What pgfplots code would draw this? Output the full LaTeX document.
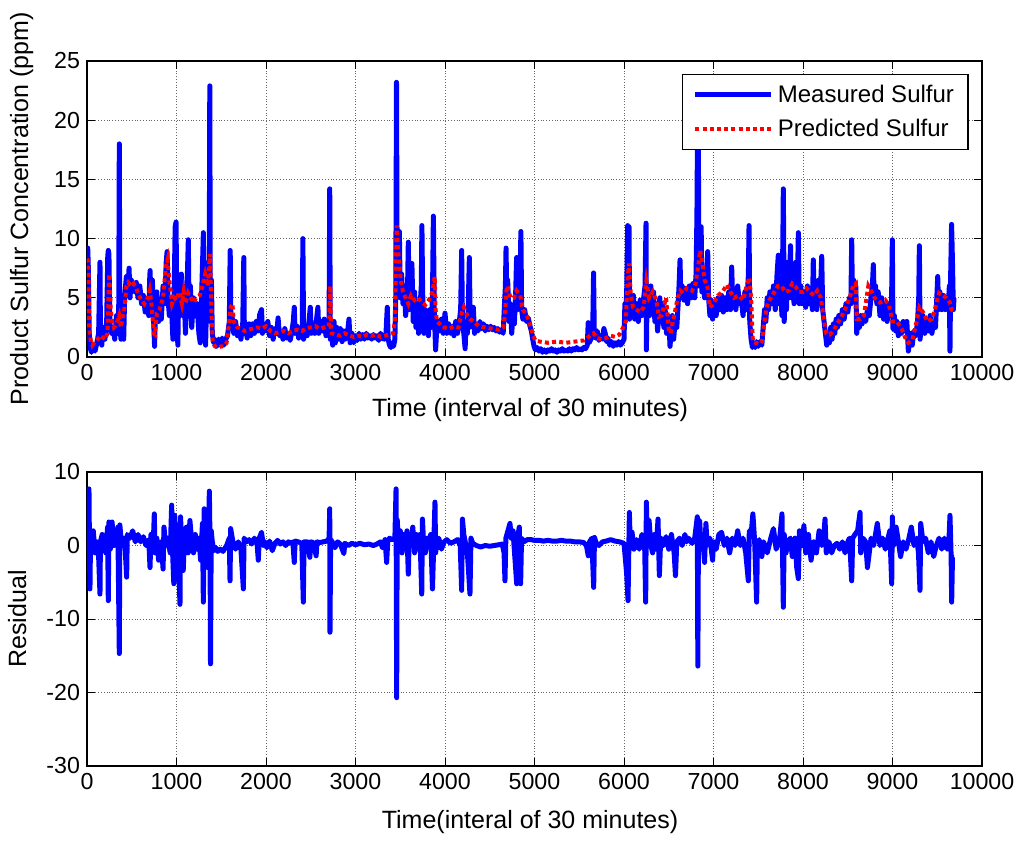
\documentclass[border=0pt]{standalone}
\usepackage{pgfplots}
\pgfplotsset{compat=1.18}
\usepackage{pgfplotstable}
\usepackage{fontspec}
\setmainfont{Liberation Sans}
\definecolor{mblue}{RGB}{0,0,255}
\definecolor{mred}{RGB}{255,0,0}

\pgfplotstableread{
x y
0 8.5
8 9.2
15 7.5
25 2.0
35 0.8
50 0.4
70 1.0
90 0.5
110 1.2
130 2.0
140 6.0
145 8.0
150 2.0
165 1.0
180 2.5
200 1.5
220 3.0
232 8.5
238 9.0
245 8.7
255 3.0
270 2.0
290 2.5
310 1.5
330 3.5
345 2.0
355 4.5
361 18.0
367 2.5
380 1.5
395 3.0
410 1.5
420 5.0
440 6.8
455 5.5
470 7.5
480 5.0
495 6.5
510 6.0
530 5.5
550 6.3
570 5.0
590 6.0
610 4.5
630 5.2
650 3.8
670 4.5
690 3.5
700 6.5
705 7.3
715 4.0
730 6.5
745 3.0
755 0.9
765 4.0
780 5.5
800 3.0
815 4.5
830 3.2
850 6.0
870 4.5
885 8.0
895 8.9
905 5.0
920 3.5
940 5.0
960 1.5
975 6.0
985 11.0
995 11.4
1005 3.0
1015 1.0
1025 6.0
1040 4.0
1055 7.0
1070 3.5
1085 5.5
1100 2.0
1115 5.0
1132 9.9
1140 4.0
1155 6.0
1170 2.5
1190 5.0
1210 3.5
1230 4.5
1250 2.0
1265 1.2
1280 5.0
1295 9.0
1300 10.5
1310 3.5
1325 1.0
1340 6.0
1355 8.0
1365 4.0
1372 22.9
1378 3.0
1390 6.5
1400 2.0
1415 1.2
1430 1.5
1450 0.9
1470 1.5
1490 1.0
1510 1.6
1530 1.0
1550 1.5
1570 1.8
1590 3.0
1600 9.0
1608 2.5
1620 3.5
1640 2.0
1660 3.0
1680 1.8
1700 2.4
1720 1.5
1740 2.8
1752 8.4
1758 2.0
1775 2.5
1790 1.6
1810 2.8
1830 1.8
1850 2.8
1870 2.0
1890 3.0
1910 2.2
1930 3.6
1950 4.0
1960 2.0
1980 2.8
2000 2.2
2020 3.0
2040 1.8
2060 2.5
2080 1.5
2100 2.4
2120 2.0
2135 3.3
2150 1.8
2170 2.2
2190 1.5
2210 2.4
2230 1.6
2250 2.0
2270 1.4
2290 2.2
2305 3.0
2316 4.2
2325 2.0
2345 2.6
2365 1.6
2385 2.5
2405 2.0
2412 10.0
2420 1.5
2440 2.6
2460 1.8
2480 3.0
2495 4.2
2505 2.0
2525 2.8
2545 2.0
2565 3.2
2580 4.2
2590 2.0
2610 3.0
2630 2.2
2650 3.2
2670 1.8
2690 2.5
2705 3.0
2712 14.2
2718 1.5
2730 2.6
2745 1.0
2760 3.0
2775 1.2
2790 2.5
2810 1.5
2830 2.4
2850 1.3
2870 2.2
2890 1.5
2910 2.0
2927 3.2
2940 1.2
2960 2.0
2980 1.2
3000 1.8
3020 1.4
3040 2.0
3060 1.5
3080 1.9
3100 1.5
3120 2.0
3140 1.6
3160 1.8
3180 1.5
3200 1.9
3220 1.6
3240 1.8
3260 1.4
3280 2.0
3300 1.6
3320 1.5
3340 1.9
3355 4.2
3365 1.5
3380 1.0
3395 0.8
3410 1.2
3425 0.9
3440 1.5
3450 5.0
3458 23.2
3465 8.0
3475 6.0
3490 10.6
3500 5.0
3515 7.0
3530 4.5
3545 6.0
3560 3.5
3580 5.0
3590 9.7
3600 4.0
3615 7.0
3630 7.9
3645 3.0
3660 5.5
3675 2.5
3690 4.5
3705 2.0
3720 4.0
3735 6.0
3742 11.1
3750 5.5
3765 2.0
3780 4.0
3800 2.5
3815 1.8
3830 4.0
3845 2.5
3860 5.0
3870 11.9
3880 4.0
3895 0.6
3905 2.0
3920 3.0
3940 2.2
3960 3.2
3980 2.0
4000 3.7
4020 2.0
4040 2.8
4060 2.0
4080 2.6
4100 1.8
4120 3.0
4140 2.0
4160 3.0
4175 4.0
4186 9.0
4195 3.0
4210 2.0
4225 0.7
4235 3.0
4250 2.0
4262 5.0
4272 8.4
4282 2.5
4300 2.8
4316 4.2
4330 2.0
4350 2.8
4370 2.2
4390 3.0
4410 2.4
4430 2.8
4450 2.2
4470 2.6
4490 2.3
4510 2.6
4530 2.3
4550 2.5
4570 2.2
4590 2.4
4610 2.1
4630 2.3
4650 2.0
4665 4.5
4675 6.0
4682 9.2
4690 5.0
4700 6.5
4715 3.0
4730 4.5
4745 2.0
4760 3.5
4775 2.8
4790 5.5
4800 8.4
4810 4.0
4825 6.0
4835 5.0
4848 10.6
4856 4.0
4870 3.2
4890 4.0
4910 3.0
4930 3.3
4950 2.6
4965 2.2
4980 1.5
4995 0.9
5010 0.6
5030 0.8
5050 0.5
5070 0.7
5090 0.4
5110 0.6
5130 0.4
5150 0.6
5170 0.5
5190 0.7
5210 0.5
5230 0.6
5250 0.4
5270 0.6
5290 0.5
5310 0.7
5330 0.5
5350 0.6
5370 0.5
5390 0.7
5410 0.5
5430 0.7
5450 0.6
5470 0.8
5490 0.6
5510 0.7
5530 0.6
5550 0.8
5570 0.7
5590 1.0
5600 2.9
5610 1.2
5630 1.5
5650 2.0
5660 7.1
5668 1.8
5680 1.6
5700 2.2
5720 1.4
5740 1.8
5760 1.5
5775 2.4
5790 2.0
5805 1.3
5820 1.6
5840 1.0
5860 1.3
5880 0.9
5900 1.2
5920 1.0
5940 1.3
5960 1.0
5980 1.2
6000 1.5
6010 4.5
6020 3.5
6030 5.5
6041 11.1
6048 5.0
6056 11.0
6062 3.2
6075 5.0
6090 3.5
6105 5.2
6120 3.2
6140 4.5
6160 3.0
6180 4.8
6200 3.5
6220 5.0
6235 6.0
6246 11.3
6250 0.6
6256 4.0
6270 5.5
6285 3.5
6300 6.0
6315 4.0
6330 5.5
6345 3.0
6360 4.5
6375 2.2
6390 3.5
6400 5.0
6415 3.0
6430 4.5
6445 2.5
6460 4.0
6475 2.0
6490 3.5
6505 2.5
6514 0.9
6525 2.0
6540 3.5
6555 1.5
6570 3.0
6590 2.5
6605 4.5
6615 6.0
6626 8.2
6635 5.0
6650 6.0
6670 4.8
6690 5.8
6710 4.5
6730 6.0
6750 5.0
6770 6.2
6790 5.0
6805 7.0
6815 12.0
6822 20.0
6830 19.0
6838 6.0
6850 8.0
6862 11.0
6870 5.5
6885 6.5
6900 5.0
6920 6.0
6935 8.9
6945 5.0
6960 3.5
6975 4.8
6990 3.2
7010 4.5
7030 3.5
7050 5.0
7070 4.0
7090 5.2
7110 3.8
7130 5.0
7150 4.0
7170 5.5
7190 4.0
7203 7.6
7215 4.5
7230 5.5
7250 4.0
7270 6.0
7290 4.5
7310 5.0
7330 3.5
7350 5.5
7370 4.0
7390 7.0
7397 11.1
7405 3.0
7420 1.5
7435 0.8
7450 1.2
7465 0.8
7480 1.3
7500 0.9
7520 1.3
7540 1.0
7555 2.5
7570 4.0
7585 3.0
7600 5.0
7615 4.0
7630 5.5
7650 4.5
7670 6.0
7690 4.0
7710 7.0
7724 8.6
7735 4.5
7750 5.5
7765 3.5
7775 10.0
7780 14.2
7790 3.0
7800 6.0
7815 4.0
7830 8.0
7845 5.0
7860 9.4
7870 5.0
7885 6.5
7900 4.5
7920 8.0
7935 5.0
7948 10.5
7958 4.5
7975 6.0
7990 4.5
8010 5.5
8030 4.2
8050 6.0
8070 4.5
8090 5.5
8105 4.0
8115 8.2
8125 4.5
8140 6.0
8155 4.0
8175 6.5
8190 4.5
8209 8.5
8220 4.0
8235 3.0
8250 2.0
8265 1.0
8280 2.0
8295 1.2
8310 2.5
8325 1.5
8340 2.8
8355 2.0
8370 3.2
8385 2.5
8400 3.5
8420 2.8
8440 4.0
8460 3.2
8480 4.5
8500 3.8
8520 5.0
8535 4.5
8544 9.9
8552 5.0
8565 6.5
8580 5.5
8590 6.0
8600 2.0
8615 3.2
8630 2.5
8645 3.5
8660 2.8
8680 3.5
8700 3.0
8720 4.0
8740 3.5
8760 5.0
8775 6.0
8786 7.8
8795 5.0
8810 6.0
8825 4.5
8840 5.5
8860 3.5
8880 5.0
8900 3.2
8920 4.5
8940 3.0
8960 4.5
8975 3.5
8990 5.0
8998 9.9
9005 2.4
9020 3.5
9035 2.2
9050 3.0
9065 1.8
9080 2.8
9100 2.0
9120 3.0
9140 2.2
9160 3.0
9177 0.5
9190 1.2
9205 2.0
9220 1.0
9240 2.2
9260 1.8
9280 3.0
9293 5.0
9300 9.4
9308 1.5
9320 2.5
9340 3.5
9360 2.0
9380 3.0
9400 2.2
9420 3.5
9440 2.0
9460 3.0
9480 2.5
9495 5.0
9505 6.8
9515 4.0
9530 5.5
9550 4.0
9570 5.2
9590 4.0
9610 5.0
9625 4.5
9635 6.0
9642 0.5
9650 7.0
9660 11.2
9670 8.0
9680 4.0
9687 5.0
}\measured

\pgfplotstableread{
x y
0 8.3
15 8.0
25 2.5
40 1.5
60 1.0
90 1.3
120 1.5
150 1.8
200 1.5
230 2.0
245 6.5
250 7.0
265 4.0
280 3.0
300 2.5
330 2.8
360 3.5
380 2.5
400 3.5
420 4.2
440 6.0
460 6.3
490 6.0
520 6.2
550 5.8
580 5.2
610 4.8
640 4.5
680 5.0
700 5.6
720 4.5
745 2.0
760 1.9
780 3.7
810 4.0
850 5.0
880 7.6
900 8.2
920 6.5
950 4.5
975 5.0
1000 4.8
1030 5.5
1060 4.5
1080 5.5
1100 4.5
1130 5.4
1160 5.0
1190 4.6
1220 5.0
1260 5.2
1290 6.0
1320 7.0
1350 6.0
1375 8.7
1390 4.0
1405 1.2
1430 0.9
1460 0.8
1500 0.9
1530 0.9
1560 1.2
1590 3.0
1605 4.2
1625 4.5
1640 3.0
1680 2.5
1720 2.4
1760 2.2
1800 2.3
1850 2.4
1900 2.5
1950 2.4
2000 2.6
2050 2.2
2100 2.0
2150 2.1
2200 2.2
2250 2.0
2300 2.2
2350 2.3
2400 2.2
2450 2.4
2500 2.5
2550 2.6
2600 2.4
2650 2.5
2700 2.6
2710 3.5
2718 6.0
2725 2.5
2735 2.0
2780 1.9
2830 1.8
2880 2.0
2930 1.8
2980 1.7
3030 1.8
3080 1.7
3130 1.9
3180 1.8
3230 1.9
3280 1.7
3330 1.8
3380 1.9
3420 2.0
3440 3.0
3460 11.1
3475 9.0
3490 8.0
3505 6.5
3530 5.5
3560 5.0
3590 4.5
3620 5.2
3660 4.8
3700 5.0
3740 4.6
3780 4.4
3820 4.8
3860 5.5
3885 6.8
3895 4.0
3910 3.0
3940 2.8
3990 2.5
4050 2.4
4100 2.6
4150 2.5
4190 3.8
4210 4.2
4250 3.5
4280 3.2
4320 3.0
4380 2.6
4450 2.5
4520 2.4
4600 2.3
4650 2.5
4670 3.5
4685 5.6
4700 6.0
4730 5.0
4770 5.0
4800 5.6
4840 5.2
4870 4.0
4920 3.4
4960 2.5
4985 1.8
5010 1.4
5060 1.3
5150 1.2
5250 1.3
5350 1.2
5450 1.3
5550 1.4
5620 1.8
5660 2.0
5700 1.6
5750 1.5
5800 1.6
5850 1.8
5900 1.7
5950 1.9
5990 2.5
6020 3.0
6040 6.5
6055 7.9
6075 5.4
6100 4.2
6140 4.0
6180 3.8
6220 4.2
6250 6.4
6280 5.0
6320 5.5
6360 4.8
6390 3.4
6420 3.5
6470 5.0
6500 2.3
6520 2.0
6560 3.5
6600 5.0
6630 5.6
6660 5.4
6700 5.8
6760 5.6
6800 6.2
6835 8.0
6850 9.0
6870 8.2
6900 6.5
6930 6.0
6945 5.2
6960 4.2
7000 4.5
7050 5.2
7100 5.5
7150 6.1
7190 5.5
7230 5.0
7280 5.2
7330 4.8
7370 6.0
7400 6.7
7420 5.0
7440 1.3
7470 1.2
7510 1.1
7540 1.3
7560 2.5
7590 4.0
7610 4.6
7640 5.0
7680 5.5
7720 6.0
7760 6.0
7800 5.5
7840 5.6
7880 6.2
7920 5.9
7960 5.5
8000 5.5
8040 5.8
8080 5.5
8120 5.2
8160 5.6
8200 5.0
8230 3.3
8260 2.0
8300 1.9
8340 2.2
8380 2.8
8430 3.4
8480 4.2
8520 5.0
8560 6.0
8590 6.2
8600 3.2
8640 3.2
8680 3.5
8730 6.0
8760 5.6
8800 5.0
8860 4.6
8920 4.8
8960 4.4
9000 3.0
9050 3.0
9100 2.4
9150 1.5
9177 1.2
9220 1.4
9270 3.0
9300 4.2
9340 3.8
9390 3.0
9440 3.2
9480 4.2
9520 5.4
9560 5.2
9600 5.0
9640 4.6
9660 4.0
9687 3.9
}\predicted

\pgfplotstableread{
x y
0 1.0
10 -0.5
22 7.7
28 -1
33 -5.9
40 1.5
55 -0.5
70 2.0
90 -1.0
110 0.5
130 -1.5
145 -6.6
150 0.5
170 1.5
190 0.0
210 -1.0
230 2.5
238 -7.5
245 3.2
260 -0.5
280 3.2
300 0.0
320 1.0
345 2.5
361 -14.7
367 2.8
380 1.0
400 0.0
420 1.0
443 -4.3
450 1.5
480 1.0
510 2.0
540 0.5
570 1.5
600 0.5
630 1.2
660 0.0
690 0.8
704 -3.0
715 1.5
740 0.0
752 4.3
760 -1.0
780 1.0
800 -2.0
830 0.5
850 -3.2
860 2.5
880 0.0
900 1.0
930 -1.0
946 5.5
955 -0.5
970 -5.2
980 4.1
990 1.0
1000 -2.0
1010 2.5
1039 -8.0
1045 3.9
1060 0.0
1075 -3.4
1090 1.5
1110 2.5
1130 -1.0
1150 3.4
1170 0.5
1190 -1.0
1210 1.5
1230 -0.5
1250 1.0
1270 -2.0
1290 3.0
1300 -7.7
1310 5.0
1330 1.0
1350 -3.0
1367 7.4
1375 0.0
1380 -16.1
1388 2.0
1400 0.5
1420 -0.7
1440 -0.3
1460 -0.8
1490 -0.5
1520 -0.8
1560 0.0
1590 1.0
1598 -4.8
1605 2.3
1630 0.5
1660 -0.5
1690 0.5
1720 -0.5
1747 -5.9
1755 1.0
1780 0.5
1810 0.8
1840 0.2
1870 1.0
1900 0.3
1914 -2.0
1925 1.0
1950 1.8
1970 0.0
1990 0.5
2010 -0.3
2040 0.6
2070 -0.7
2100 0.3
2130 0.7
2160 0.2
2190 0.5
2220 0.0
2250 0.5
2280 0.3
2300 0.5
2316 -2.3
2325 0.6
2360 0.5
2400 0.3
2417 -7.7
2425 0.5
2460 0.5
2490 -1.6
2500 0.5
2530 0.4
2560 -1.4
2570 0.5
2600 0.4
2640 0.5
2680 0.6
2705 1.0
2712 5.0
2715 -11.8
2722 0.8
2740 0.5
2770 -0.3
2800 0.5
2830 0.2
2870 -1.1
2880 0.3
2920 0.0
2960 0.3
3000 0.1
3050 0.3
3100 0.1
3150 0.2
3200 0.0
3240 0.2
3280 0.5
3300 -0.3
3330 0.8
3348 -2.3
3360 0.5
3380 1.0
3410 0.8
3440 1.0
3453 7.7
3460 -20.7
3466 3.5
3480 0.5
3500 2.0
3520 -1.0
3540 1.5
3560 -0.5
3575 2.0
3590 -3.9
3600 1.0
3620 0.0
3640 2.5
3660 -1.0
3680 1.5
3700 -0.5
3720 1.5
3740 -6.6
3748 3.6
3760 0.5
3780 -1.0
3800 1.0
3820 0.0
3840 1.5
3860 -5.9
3888 5.9
3895 -1.0
3910 0.5
3930 1.0
3960 -0.5
3990 0.5
4020 0.8
4060 0.3
4100 0.5
4140 0.8
4170 0.0
4186 -6.1
4195 3.6
4210 1.5
4250 -1.0
4279 -6.6
4290 1.0
4310 0.3
4350 0.0
4400 -0.2
4450 0.0
4500 -0.1
4550 0.0
4600 0.1
4640 0.2
4660 -1.0
4670 -4.8
4680 1.0
4726 3.0
4740 1.0
4760 2.0
4801 -5.2
4810 1.0
4830 2.5
4845 -5.2
4855 1.0
4880 0.5
4920 0.8
4960 0.8
5000 0.7
5050 0.7
5100 0.6
5150 0.7
5200 0.6
5250 0.6
5300 0.7
5350 0.6
5400 0.6
5450 0.5
5500 0.5
5550 0.4
5580 0.0
5601 -1.4
5615 0.5
5640 1.0
5661 -5.7
5670 1.1
5690 0.3
5720 0.0
5760 0.5
5800 0.6
5850 0.8
5900 0.6
5950 0.5
6000 0.3
6030 -3.9
6045 -7.5
6060 4.5
6070 0.0
6090 1.8
6110 -0.5
6140 0.8
6170 -0.5
6200 1.5
6230 0.5
6242 -7.7
6250 5.9
6260 1.0
6280 3.4
6300 0.0
6320 -1.0
6340 1.5
6360 -0.5
6380 3.6
6395 -4.1
6410 1.0
6440 0.0
6470 1.2
6500 -0.5
6530 1.5
6560 -1.0
6575 -4.1
6590 0.5
6620 1.0
6650 0.0
6680 1.5
6700 0.5
6720 1.0
6760 0.3
6790 1.0
6819 3.9
6825 -16.4
6832 3.0
6845 3.4
6860 0.0
6880 1.0
6900 -2.3
6915 3.0
6930 0.0
6960 1.0
6990 -2.0
7000 0.5
7030 -0.5
7060 1.5
7090 1.8
7120 0.0
7150 1.0
7180 -1.0
7210 1.0
7240 0.0
7270 2.0
7300 0.0
7330 1.0
7360 -1.0
7389 -4.8
7400 2.0
7420 1.5
7440 4.3
7460 0.5
7482 -7.7
7490 0.0
7510 0.8
7540 -1.5
7560 0.5
7600 -1.0
7640 1.0
7670 2.3
7700 -0.5
7740 1.0
7765 4.3
7780 -8.4
7790 1.5
7810 -1.0
7830 0.5
7860 1.0
7880 -1.5
7910 1.0
7930 -3.0
7948 -4.5
7960 2.0
7990 0.0
8010 2.7
8030 -1.0
8060 1.5
8090 -2.0
8120 0.5
8150 -1.0
8180 2.0
8210 0.0
8230 1.0
8246 3.6
8260 -1.0
8290 0.5
8320 -1.0
8350 0.0
8380 0.3
8410 -0.5
8440 0.5
8470 -1.0
8500 0.5
8520 1.0
8544 -4.8
8555 1.0
8580 1.5
8610 2.0
8637 4.5
8645 -1.0
8670 1.0
8700 0.5
8720 -3.0
8740 -1.0
8760 1.0
8790 0.0
8810 1.5
8830 3.0
8860 0.0
8890 1.0
8920 -0.5
8950 1.0
8970 2.0
8991 -5.2
8998 3.9
9010 0.0
9040 2.5
9060 1.0
9090 -1.5
9120 0.5
9150 -0.5
9180 0.8
9210 2.5
9240 0.0
9270 1.0
9290 -1.0
9307 -6.1
9315 3.0
9340 0.5
9370 1.0
9400 -1.0
9430 0.5
9460 -1.5
9490 0.0
9520 1.0
9550 -0.5
9580 1.0
9610 -0.5
9630 0.5
9642 4.1
9655 -1.5
9661 -7.7
9670 -1.6
9687 -1.6
}\residual

\pgfplotsset{
  mstyle/.style={
    scale only axis,
    width=447.5pt,
    xmin=0, xmax=10000,
    xtick={0,1000,...,10000},
    scaled x ticks=false,
    xticklabel style={/pgf/number format/.cd, fixed, 1000 sep={}},
    /pgf/number format/assume math mode=true,
    tick label style={font=\fontsize{11.6}{13}\selectfont},
    label style={font=\fontsize{12.5}{15}\selectfont},
    tick align=inside,
    major tick length=4pt,
    minor tick num=0,
    grid=major,
    major grid style={densely dotted, black!60, line width=0.5pt},
    axis line style={line width=0.6pt},
    every tick/.style={black, line width=0.5pt},
  }
}

\begin{document}
\begin{tikzpicture}
\path[use as bounding box] (-43.5pt,-244.5pt) rectangle (467pt,178.5pt);
\begin{axis}[mstyle,
  at={(0pt,0pt)}, anchor=south west,
  height=148pt,
  ymin=0, ymax=25,
  ytick={0,5,10,15,20,25},
  xlabel={Time (interval of 30 minutes)},
  ylabel={Product Sulfur Concentration (ppm)},
  xlabel style={at={(axis description cs:0.495,-0.18)}, anchor=center},
  ylabel style={at={(axis description cs:-0.073,0.5)}, anchor=center},
  legend style={at={(0.985,0.956)}, anchor=north east, draw=black, fill=white,
    line width=0.6pt, font=\fontsize{12}{14}\selectfont,
    inner xsep=5pt, inner ysep=3pt, row sep=3pt,
    cells={anchor=west}},
  legend image code/.code={\draw[#1] (0pt,0pt) -- (38pt,0pt);},
]
\addplot[mblue, line width=2.5pt, line join=round] table[x=x,y=y] {\measured};
\addlegendentry{Measured Sulfur}
\addplot[mred, line width=2pt, dash pattern=on 2pt off 1.6pt] table[x=x,y=y] {\predicted};
\addlegendentry{Predicted Sulfur}
\end{axis}
\begin{axis}[mstyle,
  at={(0pt,-204.5pt)}, anchor=south west,
  height=147pt,
  ymin=-30, ymax=10,
  ytick={-30,-20,-10,0,10},
  xlabel={Time(interal of 30 minutes)},
  ylabel={Residual},
  xlabel style={at={(axis description cs:0.495,-0.19)}, anchor=center},
  ylabel style={at={(axis description cs:-0.078,0.5)}, anchor=center},
]
\addplot[mblue, line width=2.5pt, line join=round] table[x=x,y=y] {\residual};
\end{axis}
\end{tikzpicture}
\end{document}
